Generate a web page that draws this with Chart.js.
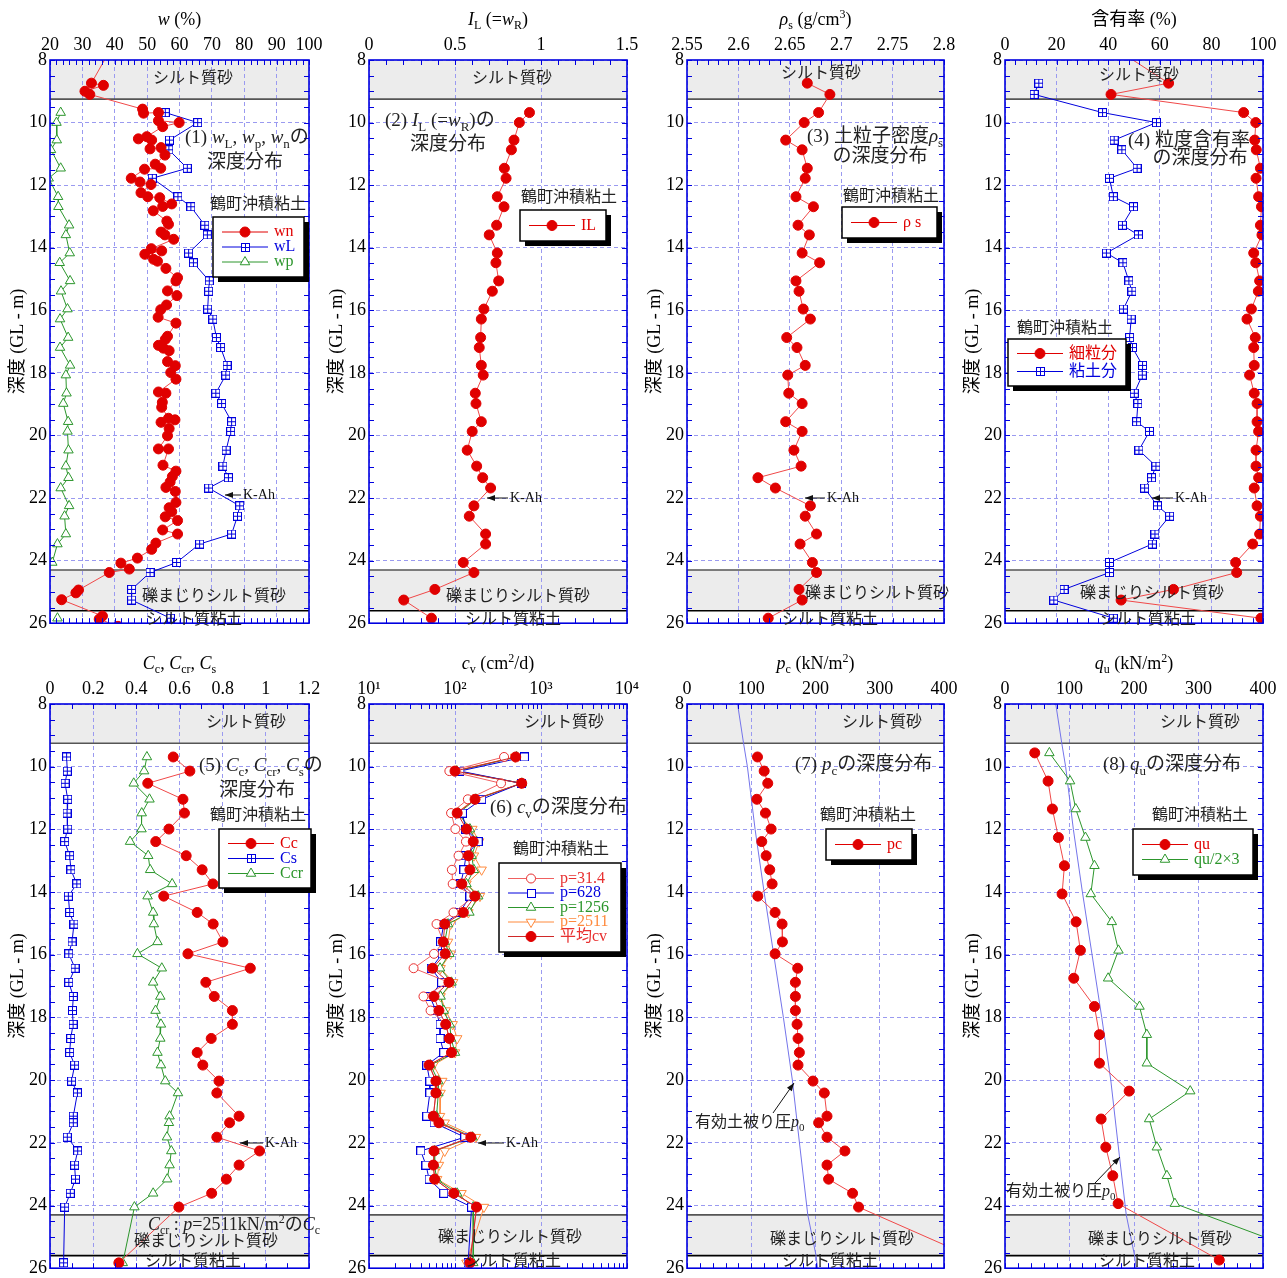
<!DOCTYPE html>
<html>
<head>
<meta charset="utf-8">
<title>鶴町沖積粘土 深度分布</title>
<script src="https://cdn.jsdelivr.net/npm/chart.js"></script>
<style>
  html, body { margin: 0; padding: 0; background: #fff; overflow: hidden; }
  #page { position: relative; width: 1287px; height: 1278px; overflow: hidden; }
  #page canvas { position: absolute; }
</style>
</head>
<body>
<div id="page"></div>
<script>
// ---------- data (depth = GL - m) ----------
const depthA = [9.68, 10.0, 10.56, 10.87, 11.46, 11.78, 12.37, 12.69, 13.28, 13.59, 14.17, 14.48, 15.06, 15.39, 15.96, 16.28, 16.87, 17.19, 17.76, 18.07, 18.65, 18.98, 19.56, 19.87, 20.47, 20.98, 21.35, 21.68, 22.25, 22.58, 23.15, 23.47, 24.06, 24.38, 24.92, 25.26, 25.84];

// (1) natural water content wn, liquid limit wL, plastic limit wp
const wnDepth = [7.6, 8.74, 8.81, 9.0, 9.1, 9.57, 9.7, 9.68, 9.94, 10.0, 10.13, 10.45, 10.52, 10.56, 10.84, 10.8, 11.04, 11.33, 11.46, 11.49, 11.78, 11.9, 11.98, 12.24, 12.37, 12.4, 12.6, 12.68, 12.82, 13.15, 13.25, 13.5, 13.59, 13.73, 14.03, 14.1, 14.21, 14.37, 14.43, 14.66, 14.96, 15.06, 15.38, 15.53, 15.83, 15.98, 16.22, 16.41, 16.83, 16.93, 17.12, 17.21, 17.29, 17.64, 17.77, 17.99, 18.2, 18.61, 18.65, 18.94, 19.1, 19.45, 19.5, 19.58, 19.78, 20.01, 20.43, 20.43, 20.95, 21.14, 21.31, 21.49, 21.66, 21.79, 22.14, 22.31, 22.44, 22.6, 22.72, 23.02, 23.15, 23.44, 23.64, 23.92, 24.08, 24.27, 24.38, 24.94, 25.03, 25.25, 25.77, 25.87, 26.1];
const wn = [39, 32.8, 36.5, 30.8, 32.3, 48.6, 48.9, 53.5, 53.5, 59.9, 54.8, 49.9, 47.3, 51.4, 50.9, 54.3, 55.5, 52.5, 54.2, 49.2, 45.1, 47.8, 51.2, 48.1, 50.2, 53.9, 57.6, 54.8, 51.9, 56.1, 56.6, 54.3, 55.5, 58.2, 51.3, 54.5, 49.3, 52.0, 53.2, 55.8, 59.4, 58.9, 56.3, 59.2, 56.0, 54.2, 53.4, 58.9, 56.3, 55.6, 53.5, 55.0, 56.8, 56.3, 58.7, 57.3, 58.9, 53.5, 55.8, 54.7, 54.5, 56.6, 58.6, 54.3, 56.8, 56.3, 53.5, 56.6, 54.9, 58.9, 57.8, 57.1, 55.8, 58.7, 58.9, 56.8, 57.6, 55.6, 59.4, 54.8, 59.4, 52.7, 51.4, 47.0, 41.9, 44.5, 38.3, 28.8, 28.0, 23.6, 36.2, 35.2, 41];
const wL = [55.6, 65.6, 56.9, 56.7, 62.4, 51.6, 59.5, 63.5, 67.8, 68.6, 62.8, 64.3, 69.2, 69.0, 68.7, 70.3, 71.4, 72.7, 74.7, 74.3, 71.2, 73.0, 76.1, 75.8, 74.4, 73.4, 75.1, 69.0, 78.6, 77.9, 76.1, 66.2, 59.1, 50.9, 45.2, 45.2, 57.2];
const wp = [23.3, 22.0, 22.1, 20.3, 23.3, 19.6, 22.5, 22.6, 25.9, 24.9, 26.1, 23.0, 26.2, 23.4, 25.4, 23.1, 25.6, 23.1, 26.2, 24.9, 25.1, 24.1, 25.6, 25.4, 25.7, 24.9, 25.7, 23.3, 25.9, 24.5, 24.9, 22.3, 20.7, null, null, null, 22.3];

// (2) liquidity index
const IL = [0.933, 0.874, 0.843, 0.828, 0.787, 0.797, 0.746, 0.785, 0.742, 0.699, 0.746, 0.738, 0.754, 0.717, 0.668, 0.653, 0.649, 0.641, 0.653, 0.664, 0.618, 0.622, 0.653, 0.600, 0.571, 0.626, 0.661, 0.707, 0.610, 0.583, 0.678, 0.678, 0.548, 0.610, 0.383, 0.202, 0.363];

// (3) soil particle density
const rhoDepth = [8.74, 9.1].concat(depthA);
const rhoS = [2.667, 2.689, 2.678, 2.664, 2.646, 2.662, 2.667, 2.665, 2.656, 2.673, 2.658, 2.669, 2.662, 2.679, 2.656, 2.659, 2.663, 2.670, 2.647, 2.657, 2.665, 2.648, 2.649, 2.662, 2.646, 2.662, 2.654, 2.661, 2.619, 2.636, 2.670, 2.665, 2.676, 2.660, 2.672, 2.676, 2.659, 2.662, 2.629];

// (4) fines / clay content
const finesDepth = [7.7, 8.74, 9.1].concat(depthA);
const fines = [44, 63.4, 41.1, 92.5, 97.2, 96.8, 97.4, 99.0, 97.3, 98.3, 99.4, 99.0, 99.6, 96.4, 97.2, 98.7, 98.2, 95.5, 93.8, 97.0, 96.4, 96.6, 94.8, 96.6, 97.7, 97.7, 98.3, 97.3, 97.3, 98.3, 96.6, 97.7, 99.0, 98.7, 96.0, 89.4, 89.8, 65.3, 45.0, 99.2];
const clayDepth = [8.74, 9.1].concat(depthA);
const clay = [13.1, 11.3, 37.8, 58.7, 42.3, 45.3, 51.2, 40.5, 42.0, 49.8, 45.5, 51.7, 39.3, 45.7, 48.0, 49.2, 45.9, 48.9, 48.3, 49.4, 53.3, 53.2, 50.1, 51.5, 51.0, 56.0, 51.9, 58.5, 56.8, 54.1, 59.1, 63.8, 58.1, 57.1, 40.5, 40.5, 22.9, 18.9, 42.0];

// (5)-(7) consolidation tests
const depthC = [9.69, 10.14, 10.53, 11.04, 11.48, 11.99, 12.39, 12.84, 13.29, 13.74, 14.13, 14.65, 15.02, 15.59, 15.97, 16.43, 16.88, 17.33, 17.78, 18.22, 18.67, 19.12, 19.52, 20.03, 20.41, 21.15, 21.36, 21.82, 22.26, 22.71, 23.16, 23.61, 24.05, 25.83];
const Cc = [0.571, 0.648, 0.453, 0.616, 0.623, 0.551, 0.490, 0.631, 0.705, 0.755, 0.527, 0.682, 0.756, 0.801, 0.639, 0.928, 0.722, 0.761, 0.845, 0.845, 0.747, 0.682, 0.708, 0.783, 0.773, 0.876, 0.832, 0.773, 0.971, 0.876, 0.817, 0.749, 0.597, 0.319];
const Cs = [0.077, 0.080, 0.070, 0.082, 0.079, 0.082, 0.068, 0.091, 0.097, 0.124, 0.085, 0.091, 0.111, 0.102, 0.087, 0.116, 0.087, 0.108, 0.104, 0.107, 0.096, 0.091, 0.114, 0.100, 0.127, 0.108, 0.108, 0.080, 0.128, 0.114, 0.118, 0.094, 0.068, 0.063];
const Ccr = [0.449, 0.436, 0.388, 0.461, 0.425, 0.424, 0.371, 0.455, 0.464, 0.566, 0.452, 0.478, 0.481, 0.498, 0.405, 0.518, 0.478, 0.511, 0.489, 0.514, 0.511, 0.498, 0.514, 0.534, 0.593, 0.554, 0.551, 0.542, 0.562, 0.554, 0.543, 0.478, 0.391, 0.337];

const cv31 = [372, 86, 343, 141, 90, 101, 134, 110, 92, 94, 168, 96, 61, 73, 57, 33, 85, 43, 52, 78, 86, 91, 50, 60, 60, 56, 65, 153, 57, 56, 58, 97, 178, 149];
const cv628 = [641, 114, 587, 204, 122, 133, 186, 134, 127, 116, 149, 114, 74, 68, 71, 53, 70, 51, 60, 67, 67, 74, 47, 51, 51, 47, 57, 130, 40, 46, 50, 74, 156, 142];
const cv1256 = [520, 105, 600, 175, 110, 149, 178, 156, 166, 136, 186, 147, 83, 76, 86, 67, 91, 68, 74, 87, 90, 100, 52, 64, 64, 61, 68, 160, 58, 58, 61, 106, 163, 163];
const cv2511 = [500, 98, 590, 168, 104, 159, 191, 166, 204, 136, 195, 143, 89, 83, 89, 68, 95, 68, 78, 94, 106, 100, 56, 71, 68, 67, 76, 175, 76, 65, 62, 119, 217, 136];
const cvAvg = [508, 100, 597, 171, 106, 136, 163, 143, 149, 120, 171, 125, 76, 73, 77, 55, 85, 57, 65, 78, 86, 91, 50, 60, 60, 56, 65, 153, 57, 56, 58, 97, 178, 149];
const cvTickLabels = ['10¹', '10²', '10³', '10⁴'];
const cvTicks = [10, 100, 1000, 10000];

const pc = [109.7, 120.1, 125.7, 108.7, 122.1, 130.9, 116.4, 123.2, 128.8, 132.5, 110.2, 137.1, 148.0, 148.5, 137.1, 172.3, 168.7, 168.7, 168.7, 171.3, 172.8, 174.9, 172.8, 196.1, 213.7, 217.9, 204.9, 217.9, 245.8, 217.9, 220.4, 257.7, 267.0, 464];

// effective overburden pressure p0
const p0Depth = [7.5, 9.25, 10, 12, 14, 16, 18, 20, 22, 24.3, 25.61, 26.5];
const p0 = [75, 88, 94, 106, 120, 135, 150, 164, 175, 188, 201, 206];

// (8) unconfined compression strength
const quDepth = [9.56, 10.46, 11.35, 12.26, 13.16, 14.06, 14.95, 15.86, 16.75, 17.65, 18.55, 19.46, 20.35, 21.24, 22.14, 23.05, 23.94, 25.74];
const qu = [46.1, 66.8, 73.5, 82.8, 92.1, 88.5, 110.2, 116.9, 106.6, 138.7, 146.4, 146.4, 192.5, 149.0, 156.3, 167.1, 175.4, 332.2];
const qu15 = [68.8, 100.9, 109.7, 124.7, 138.7, 133.0, 165.6, 175.9, 159.9, 208.5, 219.9, 219.9, 287.2, 223.5, 235.4, 251.0, 263.4, 498];

// soil layers
const layerBands = [[8, 9.25], [24.3, 25.6]];
const layerLines = [9.25, 24.3, 25.6];

// ---------- style ----------
const FONT = '"Liberation Serif", "Noto Sans CJK JP", serif';
const RED = '#e00000', RED_LINE = '#f04848', BLUE = '#0000dd', GREEN = '#2c962c', ORANGE = '#ff8a3d';
const GRID = '#9a9af0', FRAME = '#0000e0', TXT = '#222';
const PLOT_LEFT = [50, 369, 687, 1005], PLOT_W = [259, 258, 257, 258];
const PLOT_TOP = [60, 704], PLOT_BOTTOM = [625, 1270];

function ser(depths, vals) {
  return vals.map((v, i) => ({ x: v === null ? null : v, y: depths[i] }));
}

function boxImg(color, plus) {
  const s = 9, c = document.createElement('canvas');
  c.width = s; c.height = s;
  const g = c.getContext('2d');
  g.fillStyle = '#fff'; g.fillRect(0, 0, s, s);
  g.strokeStyle = color; g.lineWidth = 1;
  g.strokeRect(0.5, 0.5, s - 1, s - 1);
  if (plus) {
    g.beginPath(); g.moveTo(4.5, 0); g.lineTo(4.5, s); g.moveTo(0, 4.5); g.lineTo(s, 4.5); g.stroke();
  }
  return c;
}
const IMG = { boxplus: boxImg(BLUE, true), box: boxImg(BLUE, false) };

function mk(type, color) {
  switch (type) {
    case 'dot': return { pointStyle: 'circle', pointRadius: 5, pointBackgroundColor: color, pointBorderColor: color };
    case 'ring': return { pointStyle: 'circle', pointRadius: 4.5, pointBackgroundColor: '#fff', pointBorderColor: color };
    case 'boxplus': return { pointStyle: IMG.boxplus, pointRadius: 5 };
    case 'box': return { pointStyle: IMG.box, pointRadius: 5 };
    case 'tri': return { pointStyle: 'triangle', pointRadius: 5.5, pointBackgroundColor: '#fff', pointBorderColor: color };
    case 'tridown': return { pointStyle: 'triangle', pointRotation: 180, pointRadius: 5.5, pointBackgroundColor: '#fff', pointBorderColor: color };
  }
}

function ds(label, data, lineColor, marker, extra) {
  return Object.assign({ label, data, showLine: true, borderColor: lineColor, borderWidth: 1, pointBorderWidth: 1, pointHoverRadius: 0 }, marker, extra || {});
}
function p0Line() {
  return { label: 'p0', data: ser(p0Depth, p0), showLine: true, borderColor: '#7474ea', borderWidth: 1, pointRadius: 0, order: 10 };
}

function rich(ctx, segs, x, y, size, align, color) {
  const parts = segs.map(([t, m]) => {
    const small = m === 'sub' || m === 'sup';
    const fs = small ? Math.round(size * 0.68) : size;
    return { t, m, font: (m === 'i' ? 'italic ' : '') + fs + 'px ' + FONT };
  });
  let total = 0;
  for (const q of parts) { ctx.font = q.font; q.w = ctx.measureText(q.t).width; total += q.w; }
  let cx = align === 'center' ? x - total / 2 : align === 'right' ? x - total : x;
  ctx.save();
  ctx.fillStyle = color; ctx.textAlign = 'left'; ctx.textBaseline = 'middle';
  for (const q of parts) {
    ctx.font = q.font;
    const dy = q.m === 'sub' ? size * 0.32 : q.m === 'sup' ? -size * 0.3 : 0;
    ctx.fillText(q.t, cx, y + dy);
    cx += q.w;
  }
  ctx.restore();
}

function seg(ctx, x1, y1, x2, y2) { ctx.beginPath(); ctx.moveTo(x1, y1); ctx.lineTo(x2, y2); ctx.stroke(); }

function arrow(ctx, x1, y1, x2, y2) {
  ctx.save();
  ctx.strokeStyle = '#111'; ctx.fillStyle = '#111'; ctx.lineWidth = 1;
  seg(ctx, x1, y1, x2, y2);
  const a = Math.atan2(y2 - y1, x2 - x1), L = 8, W = 3;
  ctx.beginPath();
  ctx.moveTo(x2, y2);
  ctx.lineTo(x2 - L * Math.cos(a) + W * Math.sin(a), y2 - L * Math.sin(a) - W * Math.cos(a));
  ctx.lineTo(x2 - L * Math.cos(a) - W * Math.sin(a), y2 - L * Math.sin(a) + W * Math.cos(a));
  ctx.closePath(); ctx.fill();
  ctx.restore();
}

function drawMarker(ctx, type, color, x, y) {
  ctx.save();
  ctx.lineWidth = 1; ctx.strokeStyle = color;
  if (type === 'dot' || type === 'ring') {
    ctx.beginPath(); ctx.arc(x, y, type === 'dot' ? 5 : 4.5, 0, Math.PI * 2);
    ctx.fillStyle = type === 'dot' ? color : '#fff'; ctx.fill(); ctx.stroke();
  } else if (type === 'boxplus' || type === 'box') {
    const im = IMG[type]; ctx.drawImage(im, Math.round(x - im.width / 2), Math.round(y - im.height / 2));
  } else {
    const r = 5.5, s = type === 'tri' ? 1 : -1;
    ctx.beginPath();
    ctx.moveTo(x, y - s * r);
    ctx.lineTo(x + r * 0.866, y + s * r * 0.5);
    ctx.lineTo(x - r * 0.866, y + s * r * 0.5);
    ctx.closePath(); ctx.fillStyle = '#fff'; ctx.fill(); ctx.stroke();
  }
  ctx.restore();
}

function drawLegend(ctx, L, ox, oy) {
  const x = L.x - ox, y = L.y - oy;
  ctx.save();
  ctx.fillStyle = '#000'; ctx.fillRect(x + 5, y + 5, L.w, L.h);
  ctx.fillStyle = '#fff'; ctx.fillRect(x, y, L.w, L.h);
  ctx.strokeStyle = '#000'; ctx.lineWidth = 1.5; ctx.strokeRect(x, y, L.w, L.h);
  const gap = L.gap || 15, n = L.rows.length;
  const y0 = y + (L.h - (n - 1) * gap) / 2;
  L.rows.forEach((r, i) => {
    const ry = y0 + i * gap;
    ctx.strokeStyle = r.line || r.c; ctx.lineWidth = 1;
    seg(ctx, x + 9, ry, x + 55, ry);
    drawMarker(ctx, r.m, r.mc || r.c, x + 32, ry);
    rich(ctx, [[r.t]], x + 61, ry, L.size || 16, 'left', r.c);
  });
  ctx.restore();
}

function deco(p, ox, oy) {
  return {
    id: 'deco',
    beforeDraw(chart) {
      const { ctx, chartArea: a } = chart, ys = chart.scales.y;
      ctx.save(); ctx.fillStyle = '#ececec';
      for (const [d0, d1] of layerBands) {
        const y0 = ys.getPixelForValue(d0), y1 = ys.getPixelForValue(d1);
        ctx.fillRect(a.left, y0, a.right - a.left, y1 - y0);
      }
      ctx.restore();
    },
    beforeDatasetsDraw(chart) {
      const { ctx, chartArea: a } = chart, ys = chart.scales.y;
      ctx.save(); ctx.lineWidth = 1.6;
      layerLines.forEach((d, i) => {
        ctx.strokeStyle = i === 2 ? '#000' : '#555';
        const py = ys.getPixelForValue(d);
        seg(ctx, a.left, py, a.right, py);
      });
      ctx.restore();
    },
    afterDraw(chart) {
      const { ctx, chartArea: a } = chart, xs = chart.scales.x, ys = chart.scales.y;
      ctx.save();
      // minor ticks on all four sides
      ctx.strokeStyle = FRAME; ctx.lineWidth = 1;
      const xv = [];
      if (p.log) { for (let e = 1; e < 4; e++) for (let k = 1; k < 10; k++) xv.push(k * Math.pow(10, e)); xv.push(10000); }
      else { for (let v = p.xMin; v <= p.xMax + 1e-9; v += p.xMinor) xv.push(v); }
      xv.forEach(v => {
        const px = Math.round(xs.getPixelForValue(v)) + 0.5;
        seg(ctx, px, a.top, px, a.top + 5); seg(ctx, px, a.bottom, px, a.bottom - 5);
      });
      for (let d = 8; d <= 26; d += 0.5) {
        const py = Math.round(ys.getPixelForValue(d)) + 0.5;
        seg(ctx, a.left, py, a.left + 5, py); seg(ctx, a.right, py, a.right - 5, py);
      }
      ctx.lineWidth = 1.6;
      ctx.strokeRect(a.left, a.top, a.right - a.left, a.bottom - a.top);
      ctx.restore();
      // axis title
      rich(ctx, p.title, (a.left + a.right) / 2, a.top - 40, 18, 'center', '#000');
      // notes
      (p.notes || []).forEach(n => rich(ctx, n.s, n.x - ox, n.y - oy, n.size || 16, n.align || 'center', n.color || TXT));
      if (p.kah) {
        arrow(ctx, p.kah.text - ox - 2, p.kah.y - oy, p.kah.tip - ox, p.kah.y - oy);
        rich(ctx, [['K-Ah']], p.kah.text - ox, p.kah.y - oy, 14, 'left', '#111');
      }
      (p.arrows || []).forEach(r => arrow(ctx, r[0] - ox, r[1] - oy, r[2] - ox, r[3] - oy));
      if (p.legend) drawLegend(ctx, p.legend, ox, oy);
    }
  };
}

function addPanel(p) {
  const plotL = PLOT_LEFT[p.col], plotW = PLOT_W[p.col];
  const plotT = PLOT_TOP[p.row], plotB = PLOT_BOTTOM[p.row];
  const W = 345, padB = 12, H = plotB - plotT + 60 + padB;
  const ox = plotL - 50, oy = plotT - 60;
  const cv = document.createElement('canvas');
  cv.width = W; cv.height = H;
  cv.style.left = ox + 'px'; cv.style.top = oy + 'px';
  cv.style.width = W + 'px'; cv.style.height = H + 'px';
  document.getElementById('page').appendChild(cv);

  const xScale = {
    type: p.log ? 'logarithmic' : 'linear',
    position: 'top', min: p.xMin, max: p.xMax,
    afterFit: s => { s.height = 60; },
    ticks: {
      stepSize: p.xStep, padding: 4, color: '#000', maxRotation: 0, autoSkip: false,
      font: { family: FONT, size: 18 },
      callback: p.fmt || (v => String(+Number(v).toFixed(3)))
    },
    grid: { color: GRID, lineWidth: 1, drawTicks: false },
    border: { display: false, dash: [4, 3] }
  };
  if (p.log) xScale.afterBuildTicks = s => { s.ticks = cvTicks.map(v => ({ value: v })); };

  new Chart(cv.getContext('2d'), {
    type: 'scatter',
    data: { datasets: p.datasets },
    options: {
      responsive: false, animation: false, events: [],
      layout: { padding: { left: 0, top: 0, right: W - 50 - plotW, bottom: padB } },
      plugins: { legend: { display: false }, tooltip: { enabled: false } },
      scales: {
        x: xScale,
        y: {
          min: 8, max: 26, reverse: true,
          afterFit: s => { s.width = 50; },
          ticks: { stepSize: 2, padding: 3, color: '#000', font: { family: FONT, size: 18 } },
          grid: { color: GRID, lineWidth: 1, drawTicks: false },
          border: { display: false, dash: [4, 3] },
          title: { display: true, text: '深度 (GL - m)', color: '#000', font: { family: FONT, size: 18 }, padding: { top: 7, bottom: 0 } }
        }
      }
    },
    plugins: [deco(p, ox, oy)]
  });
}

const J = (t) => [[t]];
const bandNotes = (a, b, c) => [
  { x: a[0], y: a[1], s: J('シルト質砂') },
  { x: b[0], y: b[1], s: J('礫まじりシルト質砂') },
  { x: c[0], y: c[1], s: J('シルト質粘土') }
];

const panels = [
  { col: 0, row: 0, xMin: 20, xMax: 100, xStep: 10, xMinor: 2,
    title: [['w', 'i'], [' (%)']],
    datasets: [
      ds('wn', ser(wnDepth, wn), RED_LINE, mk('dot', RED), { order: 0 }),
      ds('wL', ser(depthA, wL), BLUE, mk('boxplus', BLUE), { order: 1 }),
      ds('wp', ser(depthA, wp), GREEN, mk('tri', GREEN), { order: 2 })
    ],
    notes: bandNotes([193, 79], [214, 597], [194, 620]).concat([
      { x: 185, y: 138, align: 'left', size: 19, s: [['(1) '], ['w', 'i'], ['L', 'sub'], [', '], ['w', 'i'], ['p', 'sub'], [', '], ['w', 'i'], ['n', 'sub'], ['の']] },
      { x: 245, y: 163, size: 19, s: J('深度分布') },
      { x: 258, y: 205, s: J('鶴町沖積粘土') }
    ]),
    kah: { tip: 225, y: 495, text: 243 },
    legend: { x: 213, y: 217, w: 91, h: 60, gap: 15, rows: [
      { t: 'wn', c: RED, m: 'dot' }, { t: 'wL', c: BLUE, m: 'boxplus' }, { t: 'wp', c: GREEN, m: 'tri' }] }
  },
  { col: 1, row: 0, xMin: 0, xMax: 1.5, xStep: 0.5, xMinor: 0.1,
    title: [['I', 'i'], ['L', 'sub'], [' (='], ['w', 'i'], ['R', 'sub'], [')']],
    datasets: [ds('IL', ser(depthA, IL), RED_LINE, mk('dot', RED))],
    notes: bandNotes([512, 79], [518, 597], [513, 620]).concat([
      { x: 385, y: 121, align: 'left', size: 19, s: [['(2) '], ['I', 'i'], ['L', 'sub'], [' (='], ['w', 'i'], ['R', 'sub'], [')の']] },
      { x: 448, y: 145, size: 19, s: J('深度分布') },
      { x: 569, y: 198, s: J('鶴町沖積粘土') }
    ]),
    kah: { tip: 487, y: 498, text: 510 },
    legend: { x: 520, y: 210, w: 86, h: 31, rows: [{ t: 'IL', c: RED, m: 'dot' }] }
  },
  { col: 2, row: 0, xMin: 2.55, xMax: 2.8, xStep: 0.05, xMinor: 0.01,
    title: [['ρ', 'i'], ['s', 'sub'], [' (g/cm'], ['3', 'sup'], [')']],
    datasets: [ds('ρs', ser(rhoDepth, rhoS), RED_LINE, mk('dot', RED))],
    notes: bandNotes([821, 74], [877, 594], [830, 620]).concat([
      { x: 807, y: 137, align: 'left', size: 19, s: [['(3) 土粒子密度'], ['ρ', 'i'], ['s', 'sub']] },
      { x: 880, y: 157, size: 19, s: J('の深度分布') },
      { x: 891, y: 197, s: J('鶴町沖積粘土') }
    ]),
    kah: { tip: 805, y: 498, text: 827 },
    legend: { x: 842, y: 207, w: 95, h: 31, rows: [{ t: 'ρ s', c: RED, m: 'dot' }] }
  },
  { col: 3, row: 0, xMin: 0, xMax: 100, xStep: 20, xMinor: 4,
    title: [['含有率 (%)']],
    datasets: [
      ds('細粒分', ser(finesDepth, fines), RED_LINE, mk('dot', RED)),
      ds('粘土分', ser(clayDepth, clay), BLUE, mk('boxplus', BLUE))
    ],
    notes: bandNotes([1139, 76], [1152, 594], [1148, 620]).concat([
      { x: 1128, y: 141, align: 'left', size: 19, s: J('(4) 粒度含有率') },
      { x: 1200, y: 159, size: 19, s: J('の深度分布') },
      { x: 1065, y: 329, s: J('鶴町沖積粘土') }
    ]),
    kah: { tip: 1152, y: 498, text: 1175 },
    legend: { x: 1008, y: 339, w: 118, h: 47, gap: 18, rows: [
      { t: '細粒分', c: RED, m: 'dot' }, { t: '粘土分', c: BLUE, m: 'boxplus' }] }
  },
  { col: 0, row: 1, xMin: 0, xMax: 1.2, xStep: 0.2, xMinor: 0.1,
    title: [['C', 'i'], ['c', 'sub'], [', '], ['C', 'i'], ['cr', 'sub'], [', '], ['C', 'i'], ['s', 'sub']],
    datasets: [
      ds('Cc', ser(depthC, Cc), RED_LINE, mk('dot', RED)),
      ds('Cs', ser(depthC, Cs), BLUE, mk('boxplus', BLUE)),
      ds('Ccr', ser(depthC, Ccr), GREEN, mk('tri', GREEN))
    ],
    notes: bandNotes([246, 723], [206, 1242], [193, 1262]).concat([
      { x: 199, y: 766, align: 'left', size: 19, s: [['(5) '], ['C', 'i'], ['c', 'sub'], [', '], ['C', 'i'], ['cr', 'sub'], [', '], ['C', 'i'], ['s', 'sub'], ['の']] },
      { x: 257, y: 791, size: 19, s: J('深度分布') },
      { x: 258, y: 816, s: J('鶴町沖積粘土') },
      { x: 148, y: 1225, align: 'left', size: 18, s: [['C', 'i'], ['cr', 'sub'], [' : '], ['p', 'i'], ['=2511kN/m'], ['2', 'sup'], ['の'], ['C', 'i'], ['c', 'sub']] }
    ]),
    kah: { tip: 240, y: 1143, text: 265 },
    legend: { x: 219, y: 829, w: 92, h: 59, gap: 15, rows: [
      { t: 'Cc', c: RED, m: 'dot' }, { t: 'Cs', c: BLUE, m: 'boxplus' }, { t: 'Ccr', c: GREEN, m: 'tri' }] }
  },
  { col: 1, row: 1, log: true, xMin: 10, xMax: 10000,
    fmt: v => { const i = cvTicks.indexOf(Math.round(v)); return i < 0 ? '' : cvTickLabels[i]; },
    title: [['c', 'i'], ['v', 'sub'], [' (cm'], ['2', 'sup'], ['/d)']],
    datasets: [
      ds('p=31.4', ser(depthC, cv31), '#f06060', mk('ring', '#e83030'), { order: 1 }),
      ds('p=628', ser(depthC, cv628), BLUE, mk('box', BLUE), { order: 2 }),
      ds('p=1256', ser(depthC, cv1256), GREEN, mk('tri', GREEN), { order: 3 }),
      ds('p=2511', ser(depthC, cv2511), ORANGE, mk('tridown', ORANGE), { order: 4 }),
      ds('平均cv', ser(depthC, cvAvg), '#d02828', mk('dot', RED), { order: 0 })
    ],
    notes: bandNotes([564, 723], [510, 1238], [513, 1262]).concat([
      { x: 490, y: 808, align: 'left', size: 19, s: [['(6) '], ['c', 'i'], ['v', 'sub'], ['の深度分布']] },
      { x: 561, y: 850, s: J('鶴町沖積粘土') }
    ]),
    kah: { tip: 478, y: 1143, text: 506 },
    legend: { x: 499, y: 863, w: 122, h: 89, gap: 14.5, rows: [
      { t: 'p=31.4', c: '#e83030', line: '#f06060', m: 'ring' },
      { t: 'p=628', c: BLUE, m: 'box' },
      { t: 'p=1256', c: GREEN, m: 'tri' },
      { t: 'p=2511', c: ORANGE, m: 'tridown' },
      { t: '平均cv', c: '#e83030', line: '#d02828', mc: RED, m: 'dot' }] }
  },
  { col: 2, row: 1, xMin: 0, xMax: 400, xStep: 100, xMinor: 20,
    title: [['p', 'i'], ['c', 'sub'], [' (kN/m'], ['2', 'sup'], [')']],
    datasets: [ds('pc', ser(depthC, pc), RED_LINE, mk('dot', RED), { order: 0 }), p0Line()],
    notes: bandNotes([882, 723], [842, 1240], [830, 1262]).concat([
      { x: 795, y: 765, align: 'left', size: 19, s: [['(7) '], ['p', 'i'], ['c', 'sub'], ['の深度分布']] },
      { x: 868, y: 816, s: J('鶴町沖積粘土') },
      { x: 695, y: 1123, align: 'left', size: 16, s: [['有効土被り圧'], ['p', 'i'], ['0', 'sub']] }
    ]),
    arrows: [[773, 1113, 794, 1083]],
    legend: { x: 826, y: 829, w: 86, h: 31, rows: [{ t: 'pc', c: RED, m: 'dot' }] }
  },
  { col: 3, row: 1, xMin: 0, xMax: 400, xStep: 100, xMinor: 20,
    title: [['q', 'i'], ['u', 'sub'], [' (kN/m'], ['2', 'sup'], [')']],
    datasets: [
      ds('qu', ser(quDepth, qu), RED_LINE, mk('dot', RED), { order: 0 }),
      ds('qu/2×3', ser(quDepth, qu15), GREEN, mk('tri', GREEN), { order: 1 }),
      p0Line()
    ],
    notes: bandNotes([1200, 723], [1160, 1240], [1147, 1262]).concat([
      { x: 1103, y: 765, align: 'left', size: 19, s: [['(8) '], ['q', 'i'], ['u', 'sub'], ['の深度分布']] },
      { x: 1200, y: 816, s: J('鶴町沖積粘土') },
      { x: 1006, y: 1192, align: 'left', size: 16, s: [['有効土被り圧'], ['p', 'i'], ['0', 'sub']] }
    ]),
    arrows: [[1095, 1183, 1120, 1157]],
    legend: { x: 1133, y: 829, w: 120, h: 46, gap: 15, rows: [
      { t: 'qu', c: RED, m: 'dot' }, { t: 'qu/2×3', c: GREEN, m: 'tri' }] }
  }
];

panels.forEach(addPanel);
</script>
</body>
</html>
